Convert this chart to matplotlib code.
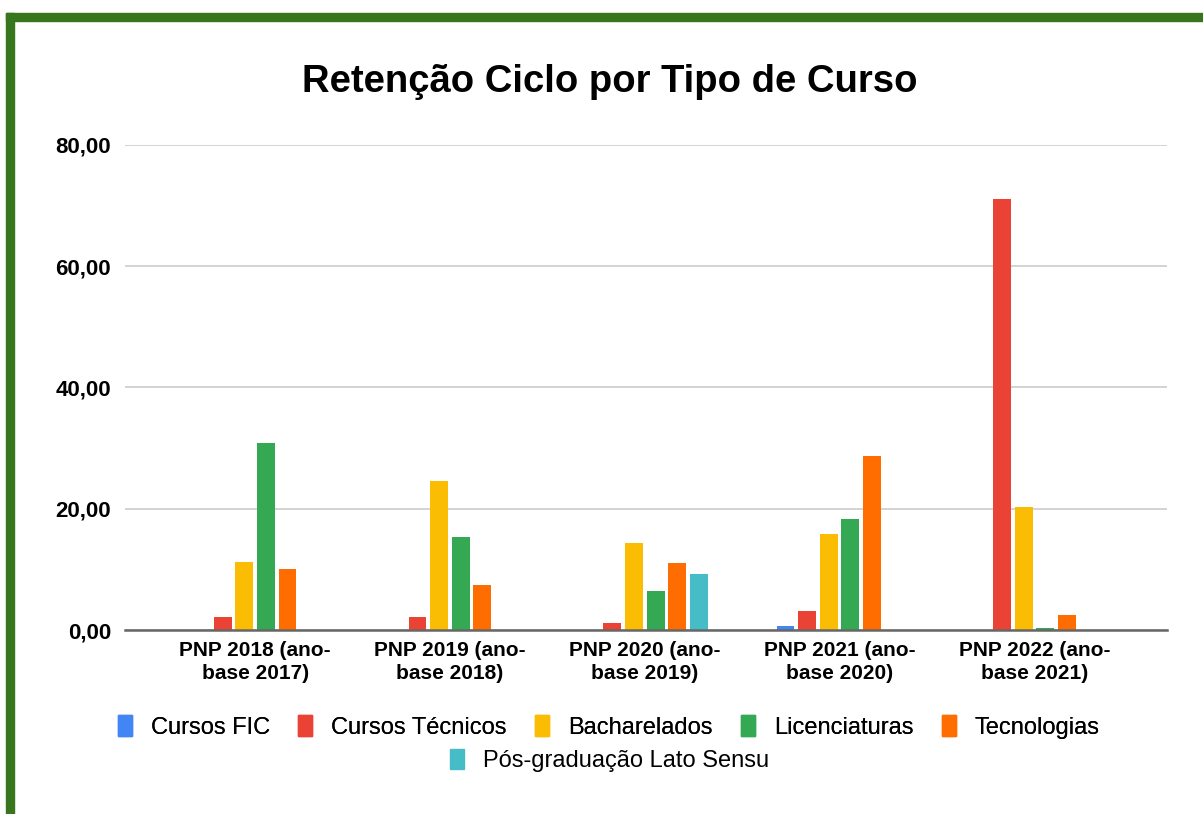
import matplotlib.pyplot as plt
from matplotlib.patches import Rectangle, Patch
import numpy as np

plt.rcParams['font.family'] = ['Liberation Sans', 'DejaVu Sans']

categories = ["PNP 2018 (ano-\nbase 2017)", "PNP 2019 (ano-\nbase 2018)", "PNP 2020 (ano-\nbase 2019)",
              "PNP 2021 (ano-\nbase 2020)", "PNP 2022 (ano-\nbase 2021)"]
series = ["Cursos FIC", "Cursos Técnicos", "Bacharelados", "Licenciaturas", "Tecnologias",
          "Pós-graduação Lato Sensu"]
cursos_fic = [0, 0, 0, 0.6, 0]
cursos_tecnicos = [2.1, 2.1, 1.1, 3.2, 71.1]
bacharelados = [11.3, 24.6, 14.4, 15.8, 20.3]
licenciaturas = [30.8, 15.3, 6.5, 18.3, 0.3]
tecnologias = [10.1, 7.5, 11.0, 28.7, 2.5]
pos_graduacao = [0, 0, 9.2, 0, 0]
y_ticks = [0, 20, 40, 60, 80]
y_tick_labels = ["0,00", "20,00", "40,00", "60,00", "80,00"]

values = [cursos_fic, cursos_tecnicos, bacharelados, licenciaturas, tecnologias, pos_graduacao]
colors = ["#4285F4", "#EA4335", "#FBBC04", "#34A853", "#FF6D01", "#46BDC6"]

fig = plt.figure(figsize=(12.03, 8.14), dpi=100)
ax = fig.add_axes([0.104, 0.226, 0.866, 0.596])

x = np.arange(len(categories))
slot = 0.111
width = 0.092
for i, (vals, c) in enumerate(zip(values, colors)):
    ax.bar(x + (i - 2.5) * slot, vals, width=width, color=c, zorder=3)

ax.set_xlim(-0.667, 4.68)
ax.set_ylim(0, 80)
ax.set_yticks(y_ticks)
ax.set_yticklabels(y_tick_labels, fontsize=16, fontweight='bold')
ax.set_xticks(x)
ax.set_xticklabels(categories, fontsize=15, fontweight='bold', linespacing=1.25)
ax.tick_params(axis='both', length=0)
ax.tick_params(axis='y', pad=10)
ax.tick_params(axis='x', pad=8)
ax.grid(axis='y', color='#cccccc', linewidth=1.2, zorder=0)
for s in ['top', 'right', 'left']:
    ax.spines[s].set_visible(False)
ax.spines['bottom'].set_color('#666666')
ax.spines['bottom'].set_linewidth(1.8)
ax.spines['bottom'].set_zorder(4)

fig.text(0.507, 0.899, "Retenção Ciclo por Tipo de Curso", fontsize=27.5, fontweight='bold',
         ha='center', va='center')

handles = [Patch(color=c, label=s) for c, s in zip(colors, series)]
leg1 = fig.legend(handles=handles[:5], loc='center', bbox_to_anchor=(0.506, 0.107), ncol=5,
                  frameon=False, fontsize=17, handlelength=0.6, handleheight=0.95,
                  columnspacing=1.2, handletextpad=0.8)
fig.add_artist(leg1)
fig.legend(handles=handles[5:], loc='center', bbox_to_anchor=(0.507, 0.066), ncol=1,
           frameon=False, fontsize=17, handlelength=0.6, handleheight=0.95, handletextpad=0.8)

# green border on the left and top
fig.patches.append(Rectangle((6 / 1203, 0), 8 / 1203, 1 - 13 / 814, transform=fig.transFigure,
                             color='#38761d', zorder=10))
fig.patches.append(Rectangle((6 / 1203, 1 - 21 / 814), 1 - 6 / 1203, 8 / 814, transform=fig.transFigure,
                             color='#38761d', zorder=10))

fig.savefig('out.png', dpi=100)
